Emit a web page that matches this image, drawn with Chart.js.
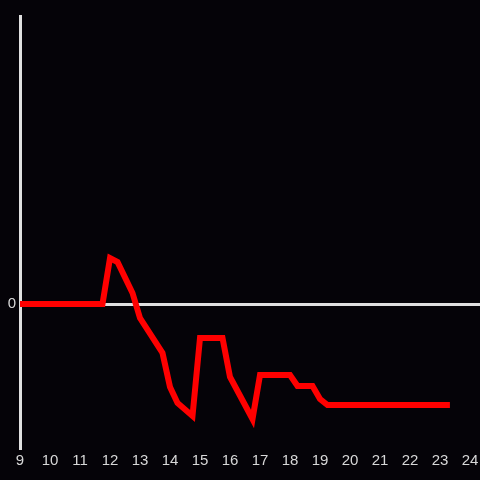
<!DOCTYPE html>
<html>
<head>
<meta charset="utf-8">
<script src="https://cdn.jsdelivr.net/npm/chart.js@4"></script>
<style>
  html, body { margin: 0; padding: 0; background: #050308; }
  canvas { display: block; }
</style>
</head>
<body>
<canvas id="chart" width="480" height="480"></canvas>
<script>
// hours of the day and the value at each corner of the line
const hours = [9, 11.75, 12, 12.25, 12.75, 13, 13.75, 14, 14.25, 14.75, 15, 15.75, 16, 16.75, 17, 18, 18.25, 18.75, 19, 19.25, 23.33];
const values = [0, 0, 46, 42, 11, -14, -49, -83, -99, -112, -34, -34, -73, -115, -71, -71, -82, -82, -95, -101, -101];
const xTicks = [9, 10, 11, 12, 13, 14, 15, 16, 17, 18, 19, 20, 21, 22, 23, 24];
const yTicks = [0];

const points = hours.map((h, i) => ({ x: h, y: values[i] }));

const bgPlugin = {
  id: 'bg',
  beforeDraw(chart) {
    const ctx = chart.ctx;
    ctx.save();
    ctx.fillStyle = '#050308';
    ctx.fillRect(0, 0, chart.width, chart.height);
    ctx.restore();
  }
};

const ctx = document.getElementById('chart').getContext('2d');
new Chart(ctx, {
  type: 'line',
  data: {
    datasets: [{
      data: points,
      borderColor: '#ff0000',
      borderWidth: 6,
      pointRadius: 0,
      tension: 0,
      fill: false,
    }]
  },
  options: {
    responsive: false,
    animation: false,
    layout: { padding: { top: 16, right: 0, left: 0, bottom: 0 } },
    plugins: { legend: { display: false }, tooltip: { enabled: false } },
    scales: {
      x: {
        type: 'linear',
        min: 9,
        max: 24.333,
        afterBuildTicks: (axis) => { axis.ticks = xTicks.map(v => ({ value: v })); },
        afterFit: (axis) => {
          axis.height = 32;
          axis.paddingLeft = 0;
          axis.paddingRight = 0;
        },
        grid: { display: false, drawTicks: false },
        border: { display: false },
        ticks: {
          color: '#d8d8d8',
          padding: 4,
          maxRotation: 0,
          autoSkip: false,
          font: { family: 'Liberation Sans', size: 15 }
        }
      },
      y: {
        min: -144,
        max: 288,
        afterBuildTicks: (axis) => { axis.ticks = yTicks.map(v => ({ value: v })); },
        afterFit: (axis) => {
          axis.width = 20;
          axis.paddingTop = 0;
          axis.paddingBottom = 0;
        },
        grid: {
          drawTicks: false,
          lineWidth: 3,
          color: (c) => c.tick && c.tick.value === 0 ? '#e0e0e0' : 'rgba(0,0,0,0)'
        },
        border: { display: true, color: '#e0e0e0', width: 3 },
        ticks: {
          color: '#d8d8d8',
          padding: 4,
          font: { family: 'Liberation Sans', size: 15 }
        }
      }
    }
  },
  plugins: [bgPlugin]
});
</script>
</body>
</html>
